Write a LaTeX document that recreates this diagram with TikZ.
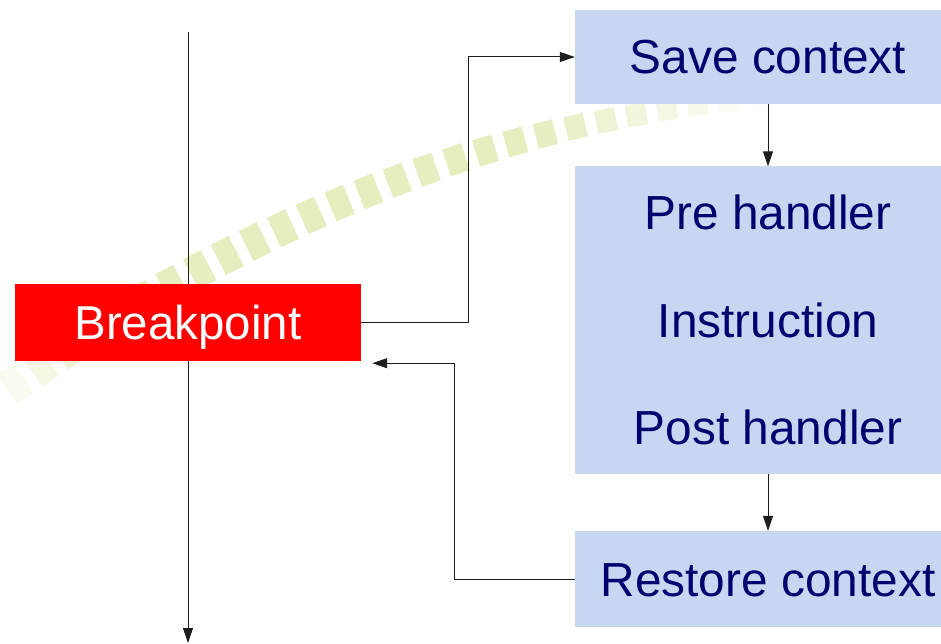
\documentclass[tikz,border=0pt]{standalone}
\usepackage{fontspec}
\setmainfont{Liberation Sans}
\usetikzlibrary{arrows.meta,decorations.markings}
\definecolor{boxblue}{RGB}{199,215,242}
\definecolor{navytext}{RGB}{0,0,110}
\definecolor{wmgreen}{RGB}{226,234,180}
\definecolor{linegray}{RGB}{30,30,30}
\tikzset{
  blockbox/.style={fill=boxblue, draw=none, inner sep=0pt, minimum width=386pt,
    text=navytext, font=\fontsize{47.8}{107.5}\selectfont, align=center},
  redbox/.style={fill=red, draw=none, inner sep=0pt, minimum width=346pt, minimum height=77pt,
    text=white, font=\fontsize{47.5}{56}\selectfont, text height=34pt, text depth=0pt},
  conn/.style={draw=linegray, line width=1pt},
  arr/.style={conn, -{Triangle[length=15pt,width=10pt]}},
}
\begin{document}
\begin{tikzpicture}[x=1pt,y=-1pt]
\useasboundingbox (0,0) rectangle (941,644);
\clip (0,0) rectangle (941,644);
% watermark arc of dashes
\path[decorate, decoration={markings,
  mark=between positions 0 and 1 step 31pt with {
    \pgfmathsetmacro\f{\pgfkeysvalueof{/pgf/decoration/mark info/distance from start}/\pgfdecoratedpathlength}
    \pgfmathsetlengthmacro\hh{18pt-10pt*\f*\f}
    \pgfmathsetmacro\op{0.85*max(0,min(1,\f/0.16,(1-\f)/0.28))}
    \fill[wmgreen, opacity=\op] (-10pt,-\hh) rectangle (10pt,\hh);
  }}]
  (-10,402) .. controls (172,268) and (460,115) .. (770,100);
% nodes
\node[redbox] (bp) at (188,322.5) {Breakpoint};
\node[blockbox, minimum height=94pt, text height=34pt, text depth=0pt] (save) at (768,57) {Save context};
\node[blockbox, minimum height=307pt] (handler) at (768,320) {Pre handler\\Instruction\\Post handler};
\node[blockbox, minimum height=96pt, text height=34pt, text depth=0pt] (restore) at (768,579) {Restore context};
\coordinate (flowtop) at (188,32);
\coordinate (flowend) at (188,643);
% connectors
\draw[conn] (flowtop) -- (bp.north);
\draw[arr] (bp.south) -- (flowend);
\draw[arr] (bp.east) -- ++(107,0) |- (save.west);
\draw[arr] (save.south) -- (handler.north);
\draw[arr] (handler.south) -- (restore.north);
\draw[arr] (restore.west) -- ++(-120,0) |- ([xshift=11pt,yshift=-2pt]bp.south east);
\end{tikzpicture}
\end{document}
